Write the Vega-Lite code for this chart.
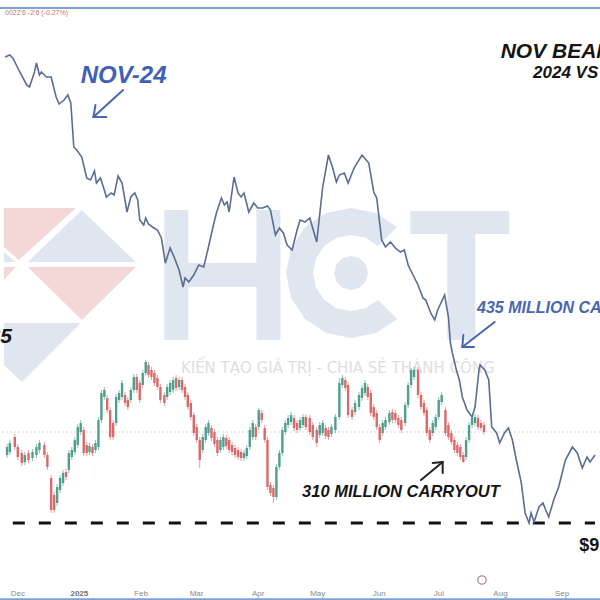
{
  "$schema": "https://vega.github.io/schema/vega-lite/v6.json",
  "width": 600,
  "height": 600,
  "padding": 0,
  "autosize": {"type": "none"},
  "background": "#ffffff",
  "config": {"view": {"stroke": null}},
  "layer": [
    {
      "data": {"values": [{"day": 26.2, "price": 1205}]},
      "mark": {"type": "point", "shape": "M-0.733,-0.967L0.067,-0.967L-0.567,-0.389L-0.733,-0.533ZM-0.467,-0.311L0.733,-0.311L0.133,0.278ZM-0.733,-0.311L-0.6,-0.311L-0.733,-0.167Z", "size": 32400, "filled": true, "color": "#f4d8d8", "strokeWidth": 0, "opacity": 1},
      "encoding": {
        "x": {"field": "day", "type": "quantitative", "scale": {"domain": [-6.436, 290.594], "nice": false, "zero": false}, "axis": null},
        "y": {"field": "price", "type": "quantitative", "scale": {"domain": [900, 1500], "nice": false, "zero": false}, "axis": null}
      }
    },
    {
      "data": {"values": [{"day": 26.2, "price": 1205}]},
      "mark": {"type": "point", "shape": "M0.133,-0.944L0.733,-0.367L-0.467,-0.367ZM-0.733,-0.478L-0.6,-0.367L-0.733,-0.367ZM-0.733,0.311L0.122,0.311L-0.533,0.967L-0.733,0.778Z", "size": 32400, "filled": true, "color": "#dfe6f0", "strokeWidth": 0, "opacity": 1},
      "encoding": {
        "x": {"field": "day", "type": "quantitative", "scale": {"domain": [-6.436, 290.594], "nice": false, "zero": false}, "axis": null},
        "y": {"field": "price", "type": "quantitative", "scale": {"domain": [900, 1500], "nice": false, "zero": false}, "axis": null}
      }
    },
    {
      "data": {"values": [{"day": 103.0, "price": 1225}]},
      "mark": {"type": "point", "shape": "M-0.829,-0.929L-0.486,-0.929L-0.486,-0.171L0.486,-0.171L0.486,-0.929L0.829,-0.929L0.829,0.929L0.486,0.929L0.486,0.171L-0.486,0.171L-0.486,0.929L-0.829,0.929Z", "size": 19600, "filled": true, "color": "#dfe6f0", "strokeWidth": 0, "opacity": 1},
      "encoding": {
        "x": {"field": "day", "type": "quantitative", "scale": {"domain": [-6.436, 290.594], "nice": false, "zero": false}, "axis": null},
        "y": {"field": "price", "type": "quantitative", "scale": {"domain": [900, 1500], "nice": false, "zero": false}, "axis": null}
      }
    },
    {
      "data": {"values": [{"day": 167.8, "price": 1227}]},
      "mark": {"type": "point", "shape": "M0.657,-0.657L0.356,-0.858L0,-0.929L-0.356,-0.858L-0.657,-0.657L-0.858,-0.356L-0.929,0L-0.858,0.356L-0.657,0.657L-0.356,0.858L0,0.929L0.356,0.858L0.657,0.657L0.384,0.384L0.208,0.502L0,0.543L-0.208,0.502L-0.384,0.384L-0.502,0.208L-0.543,0L-0.502,-0.208L-0.384,-0.384L-0.208,-0.502L0,-0.543L0.208,-0.502L0.384,-0.384ZM0.243,0L0.21,0.122L0.122,0.21L0,0.243L-0.122,0.21L-0.21,0.122L-0.243,0L-0.21,-0.122L-0.122,-0.21L0,-0.243L0.122,-0.21L0.21,-0.122Z", "size": 19600, "filled": true, "color": "#dfe6f0", "strokeWidth": 0, "opacity": 1},
      "encoding": {
        "x": {"field": "day", "type": "quantitative", "scale": {"domain": [-6.436, 290.594], "nice": false, "zero": false}, "axis": null},
        "y": {"field": "price", "type": "quantitative", "scale": {"domain": [900, 1500], "nice": false, "zero": false}, "axis": null}
      }
    },
    {
      "data": {"values": [{"day": 222.3, "price": 1225}]},
      "mark": {"type": "point", "shape": "M-0.7,-0.914L0.714,-0.914L0.714,-0.586L0.229,-0.586L0.229,0.929L-0.171,0.929L-0.171,-0.586L-0.7,-0.586Z", "size": 19600, "filled": true, "color": "#dfe6f0", "strokeWidth": 0, "opacity": 1},
      "encoding": {
        "x": {"field": "day", "type": "quantitative", "scale": {"domain": [-6.436, 290.594], "nice": false, "zero": false}, "axis": null},
        "y": {"field": "price", "type": "quantitative", "scale": {"domain": [900, 1500], "nice": false, "zero": false}, "axis": null}
      }
    },
    {
      "data": {"values": [{"day": 161.1, "price": 1127, "label": "KIẾN TẠO GIÁ TRỊ - CHIA SẺ THÀNH CÔNG"}]},
      "mark": {"type": "text", "font": "DejaVu Sans", "fontSize": 15, "color": "#dedede", "align": "center", "baseline": "alphabetic"},
      "encoding": {
        "x": {"field": "day", "type": "quantitative", "scale": {"domain": [-6.436, 290.594], "nice": false, "zero": false}, "axis": null},
        "y": {"field": "price", "type": "quantitative", "scale": {"domain": [900, 1500], "nice": false, "zero": false}, "axis": null},
        "text": {"field": "label"}
      }
    },
    {
      "data": {"values": [{"price": 1068}]},
      "mark": {"type": "rule", "color": "#d8d8d8", "strokeWidth": 1, "strokeDash": [2, 2]},
      "encoding": {"y": {"field": "price", "type": "quantitative", "scale": {"domain": [900, 1500], "nice": false, "zero": false}, "axis": null}}
    },
    {
      "data": {"values": [
        {"day": -5.4, "o": 1045, "h": 1056, "l": 1042, "c": 1053},
        {"day": -4.0, "o": 1048, "h": 1060, "l": 1045, "c": 1057},
        {"day": -1.5, "o": 1063, "h": 1066, "l": 1050, "c": 1053},
        {"day": 0, "o": 1053, "h": 1056, "l": 1040, "c": 1043},
        {"day": 2.0, "o": 1047, "h": 1050, "l": 1034, "c": 1037},
        {"day": 3.5, "o": 1038, "h": 1048, "l": 1035, "c": 1045},
        {"day": 5.4, "o": 1047, "h": 1050, "l": 1037, "c": 1040},
        {"day": 7.4, "o": 1042, "h": 1051, "l": 1039, "c": 1048},
        {"day": 9.4, "o": 1045, "h": 1056, "l": 1042, "c": 1053},
        {"day": 10.9, "o": 1050, "h": 1060, "l": 1047, "c": 1057},
        {"day": 13.4, "o": 1055, "h": 1058, "l": 1042, "c": 1045},
        {"day": 14.9, "o": 1045, "h": 1048, "l": 1030, "c": 1033},
        {"day": 16.8, "o": 1022, "h": 1025, "l": 987, "c": 990},
        {"day": 18.3, "o": 1005, "h": 1008, "l": 987, "c": 990},
        {"day": 19.8, "o": 997, "h": 1016, "l": 994, "c": 1013},
        {"day": 21.3, "o": 1010, "h": 1025, "l": 1007, "c": 1022},
        {"day": 22.8, "o": 1017, "h": 1030, "l": 1014, "c": 1027},
        {"day": 24.3, "o": 1028, "h": 1031, "l": 1020, "c": 1023},
        {"day": 25.7, "o": 1030, "h": 1050, "l": 1027, "c": 1047},
        {"day": 27.2, "o": 1043, "h": 1053, "l": 1040, "c": 1050},
        {"day": 28.7, "o": 1048, "h": 1063, "l": 1045, "c": 1060},
        {"day": 30.2, "o": 1055, "h": 1076, "l": 1052, "c": 1073},
        {"day": 31.7, "o": 1068, "h": 1080, "l": 1065, "c": 1077},
        {"day": 33.2, "o": 1070, "h": 1073, "l": 1044, "c": 1047},
        {"day": 34.7, "o": 1055, "h": 1058, "l": 1044, "c": 1047},
        {"day": 36.1, "o": 1048, "h": 1057, "l": 1045, "c": 1054},
        {"day": 37.6, "o": 1053, "h": 1056, "l": 1044, "c": 1047},
        {"day": 39.1, "o": 1050, "h": 1060, "l": 1047, "c": 1057},
        {"day": 40.6, "o": 1053, "h": 1083, "l": 1050, "c": 1080},
        {"day": 42.1, "o": 1080, "h": 1110, "l": 1077, "c": 1107},
        {"day": 43.6, "o": 1103, "h": 1113, "l": 1100, "c": 1110},
        {"day": 45.0, "o": 1102, "h": 1105, "l": 1087, "c": 1090},
        {"day": 46.5, "o": 1090, "h": 1093, "l": 1060, "c": 1063},
        {"day": 48.0, "o": 1077, "h": 1080, "l": 1060, "c": 1063},
        {"day": 49.5, "o": 1077, "h": 1106, "l": 1074, "c": 1103},
        {"day": 51.0, "o": 1100, "h": 1110, "l": 1097, "c": 1107},
        {"day": 52.5, "o": 1103, "h": 1120, "l": 1100, "c": 1117},
        {"day": 54.0, "o": 1105, "h": 1108, "l": 1094, "c": 1097},
        {"day": 55.4, "o": 1100, "h": 1103, "l": 1090, "c": 1093},
        {"day": 56.9, "o": 1100, "h": 1113, "l": 1097, "c": 1110},
        {"day": 58.4, "o": 1110, "h": 1126, "l": 1107, "c": 1123},
        {"day": 59.9, "o": 1123, "h": 1126, "l": 1107, "c": 1110},
        {"day": 61.4, "o": 1117, "h": 1120, "l": 1097, "c": 1100},
        {"day": 62.9, "o": 1115, "h": 1130, "l": 1112, "c": 1127},
        {"day": 64.4, "o": 1127, "h": 1140, "l": 1124, "c": 1138},
        {"day": 65.8, "o": 1135, "h": 1138, "l": 1122, "c": 1125},
        {"day": 67.3, "o": 1130, "h": 1133, "l": 1120, "c": 1123},
        {"day": 68.8, "o": 1127, "h": 1130, "l": 1114, "c": 1117},
        {"day": 70.3, "o": 1122, "h": 1125, "l": 1110, "c": 1113},
        {"day": 71.8, "o": 1113, "h": 1116, "l": 1097, "c": 1100},
        {"day": 73.8, "o": 1105, "h": 1108, "l": 1094, "c": 1097},
        {"day": 75.2, "o": 1103, "h": 1116, "l": 1100, "c": 1113},
        {"day": 76.7, "o": 1108, "h": 1120, "l": 1105, "c": 1117},
        {"day": 78.2, "o": 1110, "h": 1123, "l": 1107, "c": 1120},
        {"day": 79.7, "o": 1122, "h": 1125, "l": 1109, "c": 1112},
        {"day": 81.2, "o": 1113, "h": 1123, "l": 1110, "c": 1120},
        {"day": 82.7, "o": 1120, "h": 1123, "l": 1107, "c": 1110},
        {"day": 84.2, "o": 1113, "h": 1116, "l": 1100, "c": 1103},
        {"day": 85.6, "o": 1105, "h": 1108, "l": 1090, "c": 1093},
        {"day": 87.1, "o": 1097, "h": 1100, "l": 1080, "c": 1083},
        {"day": 88.6, "o": 1085, "h": 1088, "l": 1064, "c": 1067},
        {"day": 90.1, "o": 1073, "h": 1076, "l": 1057, "c": 1060},
        {"day": 91.6, "o": 1060, "h": 1063, "l": 1032, "c": 1040},
        {"day": 93.1, "o": 1050, "h": 1066, "l": 1047, "c": 1063},
        {"day": 94.6, "o": 1060, "h": 1076, "l": 1057, "c": 1073},
        {"day": 96.0, "o": 1067, "h": 1080, "l": 1064, "c": 1077},
        {"day": 97.5, "o": 1072, "h": 1075, "l": 1059, "c": 1062},
        {"day": 99.0, "o": 1068, "h": 1071, "l": 1053, "c": 1056},
        {"day": 100.5, "o": 1060, "h": 1063, "l": 1044, "c": 1047},
        {"day": 102.0, "o": 1050, "h": 1063, "l": 1047, "c": 1060},
        {"day": 103.5, "o": 1053, "h": 1066, "l": 1050, "c": 1063},
        {"day": 105.0, "o": 1062, "h": 1065, "l": 1051, "c": 1054},
        {"day": 106.4, "o": 1060, "h": 1063, "l": 1047, "c": 1050},
        {"day": 107.9, "o": 1055, "h": 1058, "l": 1045, "c": 1048},
        {"day": 109.4, "o": 1052, "h": 1055, "l": 1042, "c": 1045},
        {"day": 110.9, "o": 1050, "h": 1053, "l": 1040, "c": 1043},
        {"day": 112.4, "o": 1048, "h": 1051, "l": 1039, "c": 1042},
        {"day": 113.9, "o": 1042, "h": 1050, "l": 1039, "c": 1047},
        {"day": 115.3, "o": 1044, "h": 1055, "l": 1041, "c": 1052},
        {"day": 116.8, "o": 1053, "h": 1073, "l": 1050, "c": 1070},
        {"day": 118.3, "o": 1063, "h": 1080, "l": 1060, "c": 1077},
        {"day": 119.8, "o": 1073, "h": 1076, "l": 1060, "c": 1063},
        {"day": 121.3, "o": 1073, "h": 1092, "l": 1070, "c": 1090},
        {"day": 122.8, "o": 1087, "h": 1090, "l": 1077, "c": 1080},
        {"day": 124.3, "o": 1072, "h": 1075, "l": 1057, "c": 1060},
        {"day": 125.7, "o": 1060, "h": 1063, "l": 1010, "c": 1013},
        {"day": 127.2, "o": 1015, "h": 1018, "l": 1004, "c": 1007},
        {"day": 128.7, "o": 1012, "h": 1015, "l": 997, "c": 1003},
        {"day": 130.2, "o": 1003, "h": 1036, "l": 1000, "c": 1033},
        {"day": 131.7, "o": 1033, "h": 1050, "l": 1030, "c": 1047},
        {"day": 133.2, "o": 1047, "h": 1073, "l": 1044, "c": 1070},
        {"day": 134.7, "o": 1068, "h": 1080, "l": 1065, "c": 1077},
        {"day": 136.1, "o": 1075, "h": 1085, "l": 1072, "c": 1082},
        {"day": 137.6, "o": 1078, "h": 1088, "l": 1075, "c": 1085},
        {"day": 139.1, "o": 1082, "h": 1085, "l": 1069, "c": 1072},
        {"day": 140.6, "o": 1077, "h": 1080, "l": 1067, "c": 1070},
        {"day": 142.1, "o": 1072, "h": 1083, "l": 1069, "c": 1080},
        {"day": 143.6, "o": 1075, "h": 1086, "l": 1072, "c": 1083},
        {"day": 145.0, "o": 1083, "h": 1086, "l": 1070, "c": 1073},
        {"day": 147.0, "o": 1082, "h": 1085, "l": 1065, "c": 1068},
        {"day": 148.5, "o": 1075, "h": 1078, "l": 1060, "c": 1063},
        {"day": 150.5, "o": 1070, "h": 1073, "l": 1053, "c": 1057},
        {"day": 152.0, "o": 1065, "h": 1078, "l": 1062, "c": 1075},
        {"day": 153.5, "o": 1067, "h": 1080, "l": 1064, "c": 1077},
        {"day": 155.0, "o": 1072, "h": 1075, "l": 1061, "c": 1064},
        {"day": 156.4, "o": 1070, "h": 1073, "l": 1060, "c": 1063},
        {"day": 157.9, "o": 1066, "h": 1076, "l": 1063, "c": 1073},
        {"day": 159.9, "o": 1070, "h": 1086, "l": 1067, "c": 1083},
        {"day": 161.9, "o": 1083, "h": 1122, "l": 1080, "c": 1117},
        {"day": 163.4, "o": 1115, "h": 1125, "l": 1112, "c": 1122},
        {"day": 164.9, "o": 1120, "h": 1123, "l": 1109, "c": 1112},
        {"day": 166.3, "o": 1115, "h": 1118, "l": 1082, "c": 1085},
        {"day": 168.3, "o": 1090, "h": 1093, "l": 1080, "c": 1083},
        {"day": 169.8, "o": 1088, "h": 1100, "l": 1085, "c": 1097},
        {"day": 171.8, "o": 1093, "h": 1108, "l": 1090, "c": 1105},
        {"day": 173.3, "o": 1102, "h": 1115, "l": 1099, "c": 1112},
        {"day": 174.8, "o": 1107, "h": 1120, "l": 1104, "c": 1117},
        {"day": 176.2, "o": 1113, "h": 1116, "l": 1100, "c": 1103},
        {"day": 177.7, "o": 1107, "h": 1110, "l": 1084, "c": 1087},
        {"day": 179.2, "o": 1093, "h": 1096, "l": 1080, "c": 1083},
        {"day": 180.7, "o": 1087, "h": 1090, "l": 1070, "c": 1073},
        {"day": 182.2, "o": 1073, "h": 1076, "l": 1057, "c": 1060},
        {"day": 183.7, "o": 1067, "h": 1080, "l": 1064, "c": 1077},
        {"day": 185.1, "o": 1073, "h": 1083, "l": 1070, "c": 1080},
        {"day": 187.1, "o": 1078, "h": 1090, "l": 1075, "c": 1087},
        {"day": 188.6, "o": 1088, "h": 1091, "l": 1077, "c": 1080},
        {"day": 190.1, "o": 1087, "h": 1090, "l": 1077, "c": 1080},
        {"day": 191.6, "o": 1082, "h": 1085, "l": 1072, "c": 1075},
        {"day": 193.1, "o": 1080, "h": 1083, "l": 1067, "c": 1070},
        {"day": 195.0, "o": 1077, "h": 1098, "l": 1074, "c": 1095},
        {"day": 196.5, "o": 1095, "h": 1118, "l": 1092, "c": 1115},
        {"day": 198.0, "o": 1115, "h": 1132, "l": 1112, "c": 1130},
        {"day": 199.5, "o": 1123, "h": 1133, "l": 1120, "c": 1130},
        {"day": 201.5, "o": 1130, "h": 1133, "l": 1102, "c": 1105},
        {"day": 203.0, "o": 1105, "h": 1108, "l": 1090, "c": 1093},
        {"day": 204.5, "o": 1097, "h": 1100, "l": 1084, "c": 1087},
        {"day": 205.9, "o": 1090, "h": 1093, "l": 1064, "c": 1067},
        {"day": 207.4, "o": 1070, "h": 1073, "l": 1057, "c": 1060},
        {"day": 208.9, "o": 1067, "h": 1080, "l": 1064, "c": 1077},
        {"day": 210.4, "o": 1073, "h": 1086, "l": 1070, "c": 1083},
        {"day": 211.9, "o": 1083, "h": 1103, "l": 1080, "c": 1100},
        {"day": 213.4, "o": 1098, "h": 1108, "l": 1095, "c": 1105},
        {"day": 215.3, "o": 1090, "h": 1093, "l": 1064, "c": 1067},
        {"day": 216.8, "o": 1075, "h": 1078, "l": 1060, "c": 1063},
        {"day": 218.3, "o": 1067, "h": 1070, "l": 1055, "c": 1058},
        {"day": 219.8, "o": 1060, "h": 1063, "l": 1047, "c": 1050},
        {"day": 221.3, "o": 1055, "h": 1058, "l": 1044, "c": 1047},
        {"day": 222.8, "o": 1053, "h": 1056, "l": 1040, "c": 1043},
        {"day": 224.3, "o": 1045, "h": 1048, "l": 1037, "c": 1038},
        {"day": 225.7, "o": 1043, "h": 1063, "l": 1040, "c": 1060},
        {"day": 227.2, "o": 1060, "h": 1078, "l": 1057, "c": 1075},
        {"day": 228.7, "o": 1075, "h": 1085, "l": 1072, "c": 1082},
        {"day": 230.2, "o": 1077, "h": 1086, "l": 1074, "c": 1083},
        {"day": 231.7, "o": 1082, "h": 1085, "l": 1070, "c": 1073},
        {"day": 233.2, "o": 1077, "h": 1080, "l": 1069, "c": 1072},
        {"day": 234.7, "o": 1075, "h": 1078, "l": 1065, "c": 1068}
      ]},
      "layer": [
        {
          "mark": {"type": "rule", "strokeWidth": 1, "opacity": 0.65},
          "encoding": {
            "x": {"field": "day", "type": "quantitative", "scale": {"domain": [-6.436, 290.594], "nice": false, "zero": false}, "axis": null},
            "y": {"field": "l", "type": "quantitative", "scale": {"domain": [900, 1500], "nice": false, "zero": false}, "axis": null},
            "y2": {"field": "h"},
            "color": {"condition": {"test": "datum.c >= datum.o", "value": "#4f9e8e"}, "value": "#d86a6a"}
          }
        },
        {
          "mark": {"type": "bar", "size": 2.4},
          "encoding": {
            "x": {"field": "day", "type": "quantitative", "scale": {"domain": [-6.436, 290.594], "nice": false, "zero": false}, "axis": null},
            "y": {"field": "o", "type": "quantitative", "scale": {"domain": [900, 1500], "nice": false, "zero": false}, "axis": null},
            "y2": {"field": "c"},
            "color": {"condition": {"test": "datum.c >= datum.o", "value": "#4f9e8e"}, "value": "#d86a6a"}
          }
        }
      ]
    },
    {
      "data": {"values": [{"day": -2.5, "day2": 290.6, "price": 977}]},
      "mark": {"type": "rule", "color": "#111111", "strokeWidth": 3, "strokeDash": [12, 14]},
      "encoding": {
        "x": {"field": "day", "type": "quantitative", "scale": {"domain": [-6.436, 290.594], "nice": false, "zero": false}, "axis": null},
        "x2": {"field": "day2"},
        "y": {"field": "price", "type": "quantitative", "scale": {"domain": [900, 1500], "nice": false, "zero": false}, "axis": null}
      }
    },
    {
      "data": {"values": [
        {"day": -6.4, "price": 1443}, {"day": -4.0, "price": 1445}, {"day": -2.5, "price": 1442}, {"day": 1.0, "price": 1428},
        {"day": 4.5, "price": 1415}, {"day": 5.9, "price": 1413}, {"day": 8.4, "price": 1428}, {"day": 9.4, "price": 1437},
        {"day": 10.9, "price": 1425}, {"day": 11.9, "price": 1428}, {"day": 14.4, "price": 1423}, {"day": 16.8, "price": 1423},
        {"day": 19.3, "price": 1403}, {"day": 20.8, "price": 1396}, {"day": 23.3, "price": 1400}, {"day": 25.2, "price": 1405},
        {"day": 26.7, "price": 1397}, {"day": 28.2, "price": 1353}, {"day": 29.7, "price": 1350}, {"day": 32.2, "price": 1343},
        {"day": 34.7, "price": 1322}, {"day": 36.6, "price": 1320}, {"day": 38.6, "price": 1329}, {"day": 39.6, "price": 1317},
        {"day": 41.6, "price": 1322}, {"day": 43.1, "price": 1313}, {"day": 44.6, "price": 1303}, {"day": 47.0, "price": 1307},
        {"day": 48.5, "price": 1305}, {"day": 50.5, "price": 1324}, {"day": 52.5, "price": 1317}, {"day": 55.0, "price": 1288},
        {"day": 56.9, "price": 1303}, {"day": 58.9, "price": 1307}, {"day": 60.4, "price": 1300}, {"day": 61.4, "price": 1280},
        {"day": 63.4, "price": 1275}, {"day": 64.4, "price": 1282}, {"day": 65.8, "price": 1276}, {"day": 67.8, "price": 1273},
        {"day": 70.3, "price": 1270}, {"day": 72.3, "price": 1262}, {"day": 74.3, "price": 1237}, {"day": 76.7, "price": 1252},
        {"day": 78.7, "price": 1243}, {"day": 81.2, "price": 1230}, {"day": 83.2, "price": 1213}, {"day": 84.2, "price": 1222},
        {"day": 86.1, "price": 1218}, {"day": 88.6, "price": 1225}, {"day": 91.1, "price": 1235}, {"day": 93.6, "price": 1233},
        {"day": 96.0, "price": 1253}, {"day": 98.5, "price": 1275}, {"day": 100.0, "price": 1287}, {"day": 102.5, "price": 1302},
        {"day": 104.0, "price": 1295}, {"day": 105.4, "price": 1298}, {"day": 106.4, "price": 1288}, {"day": 108.9, "price": 1323},
        {"day": 110.9, "price": 1307}, {"day": 112.4, "price": 1303}, {"day": 113.9, "price": 1307}, {"day": 116.3, "price": 1288},
        {"day": 118.8, "price": 1297}, {"day": 120.8, "price": 1292}, {"day": 123.3, "price": 1292}, {"day": 125.7, "price": 1294},
        {"day": 127.2, "price": 1290}, {"day": 129.7, "price": 1265}, {"day": 131.7, "price": 1272}, {"day": 133.7, "price": 1267},
        {"day": 135.6, "price": 1255}, {"day": 138.1, "price": 1250}, {"day": 140.6, "price": 1270}, {"day": 142.1, "price": 1280},
        {"day": 144.6, "price": 1278}, {"day": 147.0, "price": 1282}, {"day": 150.5, "price": 1258}, {"day": 153.5, "price": 1313},
        {"day": 156.4, "price": 1345}, {"day": 158.4, "price": 1333}, {"day": 160.4, "price": 1318}, {"day": 161.9, "price": 1325},
        {"day": 164.4, "price": 1327}, {"day": 166.3, "price": 1317}, {"day": 169.3, "price": 1332}, {"day": 173.3, "price": 1345},
        {"day": 176.7, "price": 1337}, {"day": 179.2, "price": 1308}, {"day": 180.7, "price": 1302}, {"day": 183.2, "price": 1260},
        {"day": 185.1, "price": 1253}, {"day": 187.6, "price": 1258}, {"day": 190.1, "price": 1252}, {"day": 192.6, "price": 1248},
        {"day": 194.6, "price": 1250}, {"day": 196.5, "price": 1235}, {"day": 199.0, "price": 1225}, {"day": 201.5, "price": 1215},
        {"day": 204.0, "price": 1202}, {"day": 205.4, "price": 1200}, {"day": 207.9, "price": 1187}, {"day": 209.9, "price": 1180},
        {"day": 211.4, "price": 1190}, {"day": 214.9, "price": 1205}, {"day": 216.8, "price": 1183}, {"day": 217.8, "price": 1157},
        {"day": 218.8, "price": 1147}, {"day": 220.8, "price": 1130}, {"day": 222.3, "price": 1120}, {"day": 223.8, "price": 1103},
        {"day": 226.2, "price": 1090}, {"day": 228.7, "price": 1083}, {"day": 230.2, "price": 1093}, {"day": 232.2, "price": 1130},
        {"day": 232.7, "price": 1135}, {"day": 235.1, "price": 1130}, {"day": 237.1, "price": 1120}, {"day": 238.6, "price": 1073},
        {"day": 241.1, "price": 1067}, {"day": 242.6, "price": 1057}, {"day": 245.0, "price": 1067}, {"day": 247.0, "price": 1072},
        {"day": 249.0, "price": 1060}, {"day": 251.0, "price": 1040}, {"day": 253.5, "price": 1017}, {"day": 255.4, "price": 987},
        {"day": 257.4, "price": 977}, {"day": 258.4, "price": 987}, {"day": 259.9, "price": 978}, {"day": 262.4, "price": 993},
        {"day": 264.4, "price": 997}, {"day": 265.8, "price": 990}, {"day": 267.3, "price": 983}, {"day": 269.8, "price": 1000},
        {"day": 272.3, "price": 1013}, {"day": 275.7, "price": 1040}, {"day": 279.2, "price": 1053}, {"day": 281.7, "price": 1047},
        {"day": 284.2, "price": 1032}, {"day": 286.6, "price": 1043}, {"day": 288.1, "price": 1038}, {"day": 290.6, "price": 1045}
      ]},
      "mark": {"type": "line", "color": "#5a6d95", "strokeWidth": 1.6},
      "encoding": {
        "x": {"field": "day", "type": "quantitative", "scale": {"domain": [-6.436, 290.594], "nice": false, "zero": false}, "axis": null},
        "y": {"field": "price", "type": "quantitative", "scale": {"domain": [900, 1500], "nice": false, "zero": false}, "axis": null}
      }
    },
    {
      "data": {"values": [
        {"day": 53.0, "price": 1410, "day2": 38.1, "price2": 1383},
        {"day": 38.1, "price": 1383, "day2": 39.1, "price2": 1395},
        {"day": 38.1, "price": 1383, "day2": 44.6, "price2": 1383},
        {"day": 240.1, "price": 1178, "day2": 223.8, "price2": 1153},
        {"day": 223.8, "price": 1153, "day2": 224.3, "price2": 1165},
        {"day": 223.8, "price": 1153, "day2": 229.7, "price2": 1153}
      ]},
      "mark": {"type": "rule", "color": "#4a66b0", "strokeWidth": 2, "strokeCap": "round"},
      "encoding": {
        "x": {"field": "day", "type": "quantitative", "scale": {"domain": [-6.436, 290.594], "nice": false, "zero": false}, "axis": null},
        "y": {"field": "price", "type": "quantitative", "scale": {"domain": [900, 1500], "nice": false, "zero": false}, "axis": null},
        "x2": {"field": "day2"},
        "y2": {"field": "price2"}
      }
    },
    {
      "data": {"values": [
        {"day": 213.9, "price": 1038, "day2": 203.0, "price2": 1020},
        {"day": 213.9, "price": 1038, "day2": 208.9, "price2": 1037},
        {"day": 213.9, "price": 1038, "day2": 213.9, "price2": 1027}
      ]},
      "mark": {"type": "rule", "color": "#222222", "strokeWidth": 2, "strokeCap": "round"},
      "encoding": {
        "x": {"field": "day", "type": "quantitative", "scale": {"domain": [-6.436, 290.594], "nice": false, "zero": false}, "axis": null},
        "y": {"field": "price", "type": "quantitative", "scale": {"domain": [900, 1500], "nice": false, "zero": false}, "axis": null},
        "x2": {"field": "day2"},
        "y2": {"field": "price2"}
      }
    },
    {
      "data": {"values": [{"day": 31.7, "price": 1417, "label": "NOV-24"}]},
      "mark": {"type": "text", "font": "Liberation Sans", "fontSize": 24, "fontWeight": "bold", "fontStyle": "italic", "color": "#3f5fb8", "align": "left", "baseline": "alphabetic"},
      "encoding": {
        "x": {"field": "day", "type": "quantitative", "scale": {"domain": [-6.436, 290.594], "nice": false, "zero": false}, "axis": null},
        "y": {"field": "price", "type": "quantitative", "scale": {"domain": [900, 1500], "nice": false, "zero": false}, "axis": null},
        "text": {"field": "label"}
      }
    },
    {
      "data": {"values": [{"day": 231.2, "price": 1187, "label": "435 MILLION CARRYOUT"}]},
      "mark": {"type": "text", "font": "Liberation Sans", "fontSize": 16, "fontWeight": "bold", "fontStyle": "italic", "color": "#4866b3", "align": "left", "baseline": "alphabetic"},
      "encoding": {
        "x": {"field": "day", "type": "quantitative", "scale": {"domain": [-6.436, 290.594], "nice": false, "zero": false}, "axis": null},
        "y": {"field": "price", "type": "quantitative", "scale": {"domain": [900, 1500], "nice": false, "zero": false}, "axis": null},
        "text": {"field": "label"}
      }
    },
    {
      "data": {"values": [{"day": 143.1, "price": 1003, "label": "310 MILLION CARRYOUT"}]},
      "mark": {"type": "text", "font": "Liberation Sans", "fontSize": 16.5, "fontWeight": "bold", "fontStyle": "italic", "color": "#151515", "align": "left", "baseline": "alphabetic"},
      "encoding": {
        "x": {"field": "day", "type": "quantitative", "scale": {"domain": [-6.436, 290.594], "nice": false, "zero": false}, "axis": null},
        "y": {"field": "price", "type": "quantitative", "scale": {"domain": [900, 1500], "nice": false, "zero": false}, "axis": null},
        "text": {"field": "label"}
      }
    },
    {
      "data": {"values": [{"day": 243.1, "price": 1442, "label": "NOV BEANS"}]},
      "mark": {"type": "text", "font": "Liberation Sans", "fontSize": 21, "fontWeight": "bold", "fontStyle": "italic", "color": "#151515", "align": "left", "baseline": "alphabetic"},
      "encoding": {
        "x": {"field": "day", "type": "quantitative", "scale": {"domain": [-6.436, 290.594], "nice": false, "zero": false}, "axis": null},
        "y": {"field": "price", "type": "quantitative", "scale": {"domain": [900, 1500], "nice": false, "zero": false}, "axis": null},
        "text": {"field": "label"}
      }
    },
    {
      "data": {"values": [{"day": 259.4, "price": 1422, "label": "2024 VS 2025"}]},
      "mark": {"type": "text", "font": "Liberation Sans", "fontSize": 17, "fontWeight": "bold", "fontStyle": "italic", "color": "#151515", "align": "left", "baseline": "alphabetic"},
      "encoding": {
        "x": {"field": "day", "type": "quantitative", "scale": {"domain": [-6.436, 290.594], "nice": false, "zero": false}, "axis": null},
        "y": {"field": "price", "type": "quantitative", "scale": {"domain": [900, 1500], "nice": false, "zero": false}, "axis": null},
        "text": {"field": "label"}
      }
    },
    {
      "data": {"values": [{"day": 282.7, "price": 949, "label": "$9.77"}]},
      "mark": {"type": "text", "font": "Liberation Sans", "fontSize": 18, "fontWeight": "bold", "color": "#151515", "align": "left", "baseline": "alphabetic"},
      "encoding": {
        "x": {"field": "day", "type": "quantitative", "scale": {"domain": [-6.436, 290.594], "nice": false, "zero": false}, "axis": null},
        "y": {"field": "price", "type": "quantitative", "scale": {"domain": [900, 1500], "nice": false, "zero": false}, "axis": null},
        "text": {"field": "label"}
      }
    },
    {
      "data": {"values": [{"day": -3.0, "price": 1157, "label": "$10.85"}]},
      "mark": {"type": "text", "font": "Liberation Sans", "fontSize": 21, "fontWeight": "bold", "fontStyle": "italic", "color": "#151515", "align": "right", "baseline": "alphabetic"},
      "encoding": {
        "x": {"field": "day", "type": "quantitative", "scale": {"domain": [-6.436, 290.594], "nice": false, "zero": false}, "axis": null},
        "y": {"field": "price", "type": "quantitative", "scale": {"domain": [900, 1500], "nice": false, "zero": false}, "axis": null},
        "text": {"field": "label"}
      }
    },
    {
      "data": {"values": [
        {"day": 0, "price": 904, "label": "Dec"}, {"day": 62, "price": 904, "label": "Feb"}, {"day": 90, "price": 904, "label": "Mar"},
        {"day": 121, "price": 904, "label": "Apr"}, {"day": 151, "price": 904, "label": "May"}, {"day": 182, "price": 904, "label": "Jun"},
        {"day": 212, "price": 904, "label": "Jul"}, {"day": 243, "price": 904, "label": "Aug"}, {"day": 274, "price": 904, "label": "Sep"}
      ]},
      "mark": {"type": "text", "font": "Liberation Sans", "fontSize": 8, "color": "#8a8a8a", "align": "center", "baseline": "alphabetic"},
      "encoding": {
        "x": {"field": "day", "type": "quantitative", "scale": {"domain": [-6.436, 290.594], "nice": false, "zero": false}, "axis": null},
        "y": {"field": "price", "type": "quantitative", "scale": {"domain": [900, 1500], "nice": false, "zero": false}, "axis": null},
        "text": {"field": "label"}
      }
    },
    {
      "data": {"values": [{"day": 31, "price": 904, "label": "2025"}]},
      "mark": {"type": "text", "font": "Liberation Sans", "fontSize": 8, "fontWeight": "bold", "color": "#707070", "align": "center", "baseline": "alphabetic"},
      "encoding": {
        "x": {"field": "day", "type": "quantitative", "scale": {"domain": [-6.436, 290.594], "nice": false, "zero": false}, "axis": null},
        "y": {"field": "price", "type": "quantitative", "scale": {"domain": [900, 1500], "nice": false, "zero": false}, "axis": null},
        "text": {"field": "label"}
      }
    },
    {
      "data": {"values": [{"day": -6.4, "price": 1485, "label": "0022'6  -2'6 (-0.27%)"}]},
      "mark": {"type": "text", "font": "Liberation Sans", "fontSize": 7, "color": "#d07070", "align": "left", "baseline": "alphabetic"},
      "encoding": {
        "x": {"field": "day", "type": "quantitative", "scale": {"domain": [-6.436, 290.594], "nice": false, "zero": false}, "axis": null},
        "y": {"field": "price", "type": "quantitative", "scale": {"domain": [900, 1500], "nice": false, "zero": false}, "axis": null},
        "text": {"field": "label"}
      }
    },
    {
      "data": {"values": [{"day": 233.7, "price": 920}]},
      "mark": {"type": "point", "shape": "circle", "size": 70, "filled": false, "color": "#b98a8a", "strokeWidth": 1.3, "opacity": 1},
      "encoding": {
        "x": {"field": "day", "type": "quantitative", "scale": {"domain": [-6.436, 290.594], "nice": false, "zero": false}, "axis": null},
        "y": {"field": "price", "type": "quantitative", "scale": {"domain": [900, 1500], "nice": false, "zero": false}, "axis": null}
      }
    },
    {
      "data": {"values": [{"price": 1492}, {"price": 900.8}]},
      "mark": {"type": "rule", "color": "#7f9fd8", "strokeWidth": 2},
      "encoding": {"y": {"field": "price", "type": "quantitative", "scale": {"domain": [900, 1500], "nice": false, "zero": false}, "axis": null}}
    }
  ]
}
